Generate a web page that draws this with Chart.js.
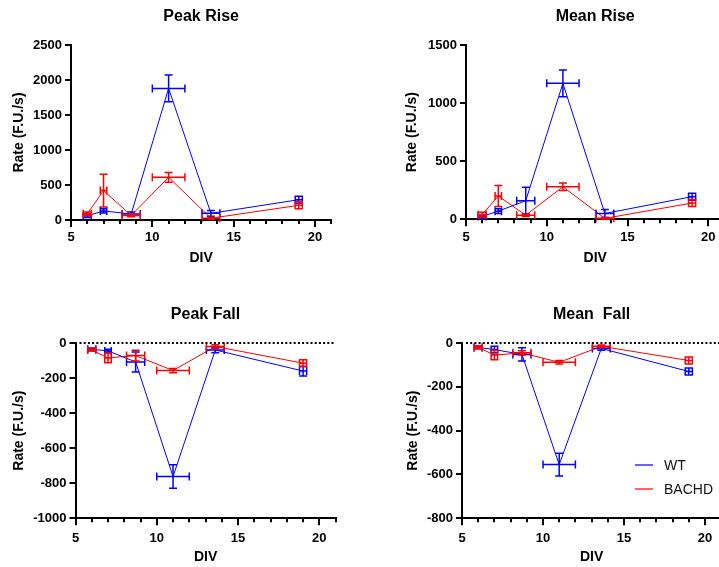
<!DOCTYPE html>
<html>
<head>
<meta charset="utf-8">
<script src="https://cdn.jsdelivr.net/npm/chart.js@4.4.1/dist/chart.umd.min.js"></script>
<style>
  html, body { margin: 0; padding: 0; background: #fff; width: 719px; height: 567px; overflow: hidden; }
  canvas { position: absolute; }
</style>
</head>
<body>
<canvas id="peakRise" width="360" height="280" style="left:0;top:0"></canvas>
<canvas id="meanRise" width="370" height="280" style="left:360px;top:0"></canvas>
<canvas id="peakFall" width="360" height="277" style="left:0;top:290px"></canvas>
<canvas id="meanFall" width="370" height="277" style="left:360px;top:290px"></canvas>
<script>
// DIV (days in vitro) and their spread
const divs    = [6, 7, 8.7, 11, 13.6, 19];
const divErr  = [0.25, 0.2, 0.56, 1, 0.55, 0.22];

// Peak Rise
const wtPeakRise        = [60, 130, 85, 1880, 95, 290];
const wtPeakRiseErr     = [25, 30, 30, 190, 40, 50];
const bachdPeakRise     = [90, 420, 65, 610, 25, 210];
const bachdPeakRiseErr  = [25, 235, 20, 70, 15, 50];

// Mean Rise
const wtMeanRise        = [25, 70, 160, 1170, 50, 195];
const wtMeanRiseErr     = [15, 20, 115, 115, 35, 30];
const bachdMeanRise     = [40, 200, 35, 280, 8, 140];
const bachdMeanRiseErr  = [20, 90, 10, 32, 8, 30];

// Peak Fall
const wtPeakFall        = [-36, -45, -108, -762, -40, -160];
const wtPeakFallErr     = [8, 10, 57, 67, 15, 28];
const bachdPeakFall     = [-40, -85, -72, -157, -20, -115];
const bachdPeakFallErr  = [6, 28, 30, 12, 10, 20];

// Mean Fall
const wtMeanFall        = [-20, -30, -52, -555, -25, -130];
const wtMeanFallErr     = [6, 15, 30, 52, 8, 16];
const bachdMeanFall     = [-20, -55, -45, -88, -15, -80];
const bachdMeanFallErr  = [6, 22, 10, 8, 6, 16];

const BLUE = '#0000ff';
const RED = '#ff0000';

Chart.defaults.font.family = "'Liberation Sans', Arial, sans-serif";
Chart.defaults.color = '#000';

// x and y error bars with caps
const errorBars = {
  id: 'errorBars',
  afterDatasetsDraw(chart) {
    const {ctx, scales: {x, y}} = chart;
    const cap = 4;
    chart.data.datasets.forEach(ds => {
      ctx.save();
      ctx.strokeStyle = ds.borderColor;
      ctx.lineWidth = 1.5;
      ds.data.forEach((p, j) => {
        const px = x.getPixelForValue(p.x);
        const py = y.getPixelForValue(p.y);
        const xl = x.getPixelForValue(p.x - ds.xErr[j]);
        const xr = x.getPixelForValue(p.x + ds.xErr[j]);
        const yt = y.getPixelForValue(p.y + ds.yErr[j]);
        const yb = y.getPixelForValue(p.y - ds.yErr[j]);
        ctx.beginPath();
        ctx.moveTo(xl, py); ctx.lineTo(xr, py);
        ctx.moveTo(xl, py - cap); ctx.lineTo(xl, py + cap);
        ctx.moveTo(xr, py - cap); ctx.lineTo(xr, py + cap);
        ctx.moveTo(px, yt); ctx.lineTo(px, yb);
        ctx.moveTo(px - cap, yt); ctx.lineTo(px + cap, yt);
        ctx.moveTo(px - cap, yb); ctx.lineTo(px + cap, yb);
        ctx.stroke();
      });
      ctx.restore();
    });
  }
};

// short ticks at every DIV, dotted zero line, legend
const extras = {
  id: 'extras',
  afterDraw(chart, args, opts) {
    const {ctx, chartArea, scales: {x, y}} = chart;
    ctx.save();
    ctx.strokeStyle = '#000';
    ctx.lineWidth = 2;
    for (let v = Math.ceil(x.min); v <= x.max; v++) {
      if (v % 5 === 0) continue;
      const px = Math.round(x.getPixelForValue(v));
      ctx.beginPath();
      ctx.moveTo(px, chartArea.bottom);
      ctx.lineTo(px, chartArea.bottom + 4);
      ctx.stroke();
    }
    if (opts.zeroLine) {
      const py = y.getPixelForValue(0);
      ctx.setLineDash([2, 2.2]);
      ctx.beginPath();
      ctx.moveTo(chartArea.left + 4, py);
      ctx.lineTo(chartArea.right, py);
      ctx.stroke();
      ctx.setLineDash([]);
    }
    if (opts.legend) {
      ctx.font = "14px 'Liberation Sans', Arial, sans-serif";
      ctx.textBaseline = 'middle';
      ctx.lineWidth = 1.2;
      chart.data.datasets.forEach((ds, i) => {
        const ly = chartArea.top + 122 + i * 24;
        const lx = chartArea.left + 173;
        ctx.strokeStyle = ds.borderColor;
        ctx.beginPath();
        ctx.moveTo(lx, ly);
        ctx.lineTo(lx + 18, ly);
        ctx.stroke();
        ctx.fillStyle = '#111';
        ctx.fillText(ds.label, lx + 29, ly + 1);
      });
    }
    ctx.restore();
  }
};

function series(label, color, vals, errs) {
  return {
    label: label,
    data: divs.map((d, i) => ({x: d, y: vals[i]})),
    xErr: divErr,
    yErr: errs,
    borderColor: color,
    backgroundColor: color,
    borderWidth: 1,
    pointRadius: 0,
    showLine: true,
    tension: 0
  };
}

function makeChart(id, cfg) {
  new Chart(document.getElementById(id), {
    type: 'scatter',
    data: {
      datasets: [
        series('WT', BLUE, cfg.wt, cfg.wtErr),
        series('BACHD', RED, cfg.bachd, cfg.bachdErr)
      ]
    },
    options: {
      responsive: false,
      animation: false,
      devicePixelRatio: 1,
      layout: {padding: {left: 0, top: 0, right: cfg.padRight, bottom: 0}},
      plugins: {
        legend: {display: false},
        tooltip: {enabled: false},
        title: {
          display: true,
          text: cfg.title,
          fullSize: false,
          font: {size: 16, weight: 'bold'},
          color: '#000',
          padding: {top: cfg.titleTop, bottom: cfg.titleBottom}
        },
        extras: {zeroLine: cfg.zeroLine, legend: cfg.legend}
      },
      scales: {
        x: {
          type: 'linear',
          min: 5,
          max: 21,
          afterFit: s => { s.height = cfg.xHeight; },
          ticks: {
            stepSize: 5,
            includeBounds: false,
            padding: cfg.xTickPad,
            font: {size: 13, weight: 'bold'},
            color: '#000',
            maxRotation: 0,
            callback: v => String(v)
          },
          grid: {drawOnChartArea: false, color: '#000', lineWidth: 2, tickLength: 7},
          border: {display: true, color: '#000', width: 2},
          title: {
            display: true,
            text: 'DIV',
            font: {size: 14, weight: 'bold'},
            color: '#000',
            padding: {top: 0, bottom: cfg.xTitlePad}
          }
        },
        y: {
          type: 'linear',
          min: cfg.yMin,
          max: cfg.yMax,
          afterFit: s => { s.width = cfg.yWidth; },
          ticks: {
            stepSize: cfg.yStep,
            padding: 3,
            font: {size: 13, weight: 'bold'},
            color: '#000',
            callback: v => String(v)
          },
          grid: {drawOnChartArea: false, color: '#000', lineWidth: 2, tickLength: 6},
          border: {display: true, color: '#000', width: 2},
          title: {
            display: true,
            text: 'Rate (F.U./s)',
            font: {size: 14, weight: 'bold'},
            color: '#000',
            padding: {top: cfg.yTitlePad, bottom: 0}
          }
        }
      }
    },
    plugins: [errorBars, extras]
  });
}

makeChart('peakRise', {
  title: 'Peak Rise',
  wt: wtPeakRise, wtErr: wtPeakRiseErr, bachd: bachdPeakRise, bachdErr: bachdPeakRiseErr,
  yMin: 0, yMax: 2500, yStep: 500,
  yWidth: 71, padRight: 28.7, xHeight: 60,
  titleTop: 7.4, titleBottom: 18.4, xTickPad: 3, xTitlePad: 13.6, yTitlePad: 10.8,
  zeroLine: false, legend: false
});

makeChart('meanRise', {
  title: 'Mean Rise',
  wt: wtMeanRise, wtErr: wtMeanRiseErr, bachd: bachdMeanRise, bachdErr: bachdMeanRiseErr,
  yMin: 0, yMax: 1500, yStep: 500,
  yWidth: 106, padRight: 5.6, xHeight: 60.7,
  titleTop: 7.4, titleBottom: 18.4, xTickPad: 3, xTitlePad: 13.6, yTitlePad: 44.1,
  zeroLine: false, legend: false
});

makeChart('peakFall', {
  title: 'Peak Fall',
  wt: wtPeakFall, wtErr: wtPeakFallErr, bachd: bachdPeakFall, bachdErr: bachdPeakFallErr,
  yMin: -1000, yMax: 0, yStep: 200,
  yWidth: 75.5, padRight: 24.4, xHeight: 48.7,
  titleTop: 14.9, titleBottom: 18.9, xTickPad: 5, xTitlePad: 1.6, yTitlePad: 10.8,
  zeroLine: true, legend: false
});

makeChart('meanFall', {
  title: 'Mean  Fall',
  wt: wtMeanFall, wtErr: wtMeanFallErr, bachd: bachdMeanFall, bachdErr: bachdMeanFallErr,
  yMin: -800, yMax: 0, yStep: 200,
  yWidth: 102, padRight: 8.8, xHeight: 48.7,
  titleTop: 14.9, titleBottom: 18.9, xTickPad: 5, xTitlePad: 1.6, yTitlePad: 44.4,
  zeroLine: true, legend: true
});
</script>
</body>
</html>
